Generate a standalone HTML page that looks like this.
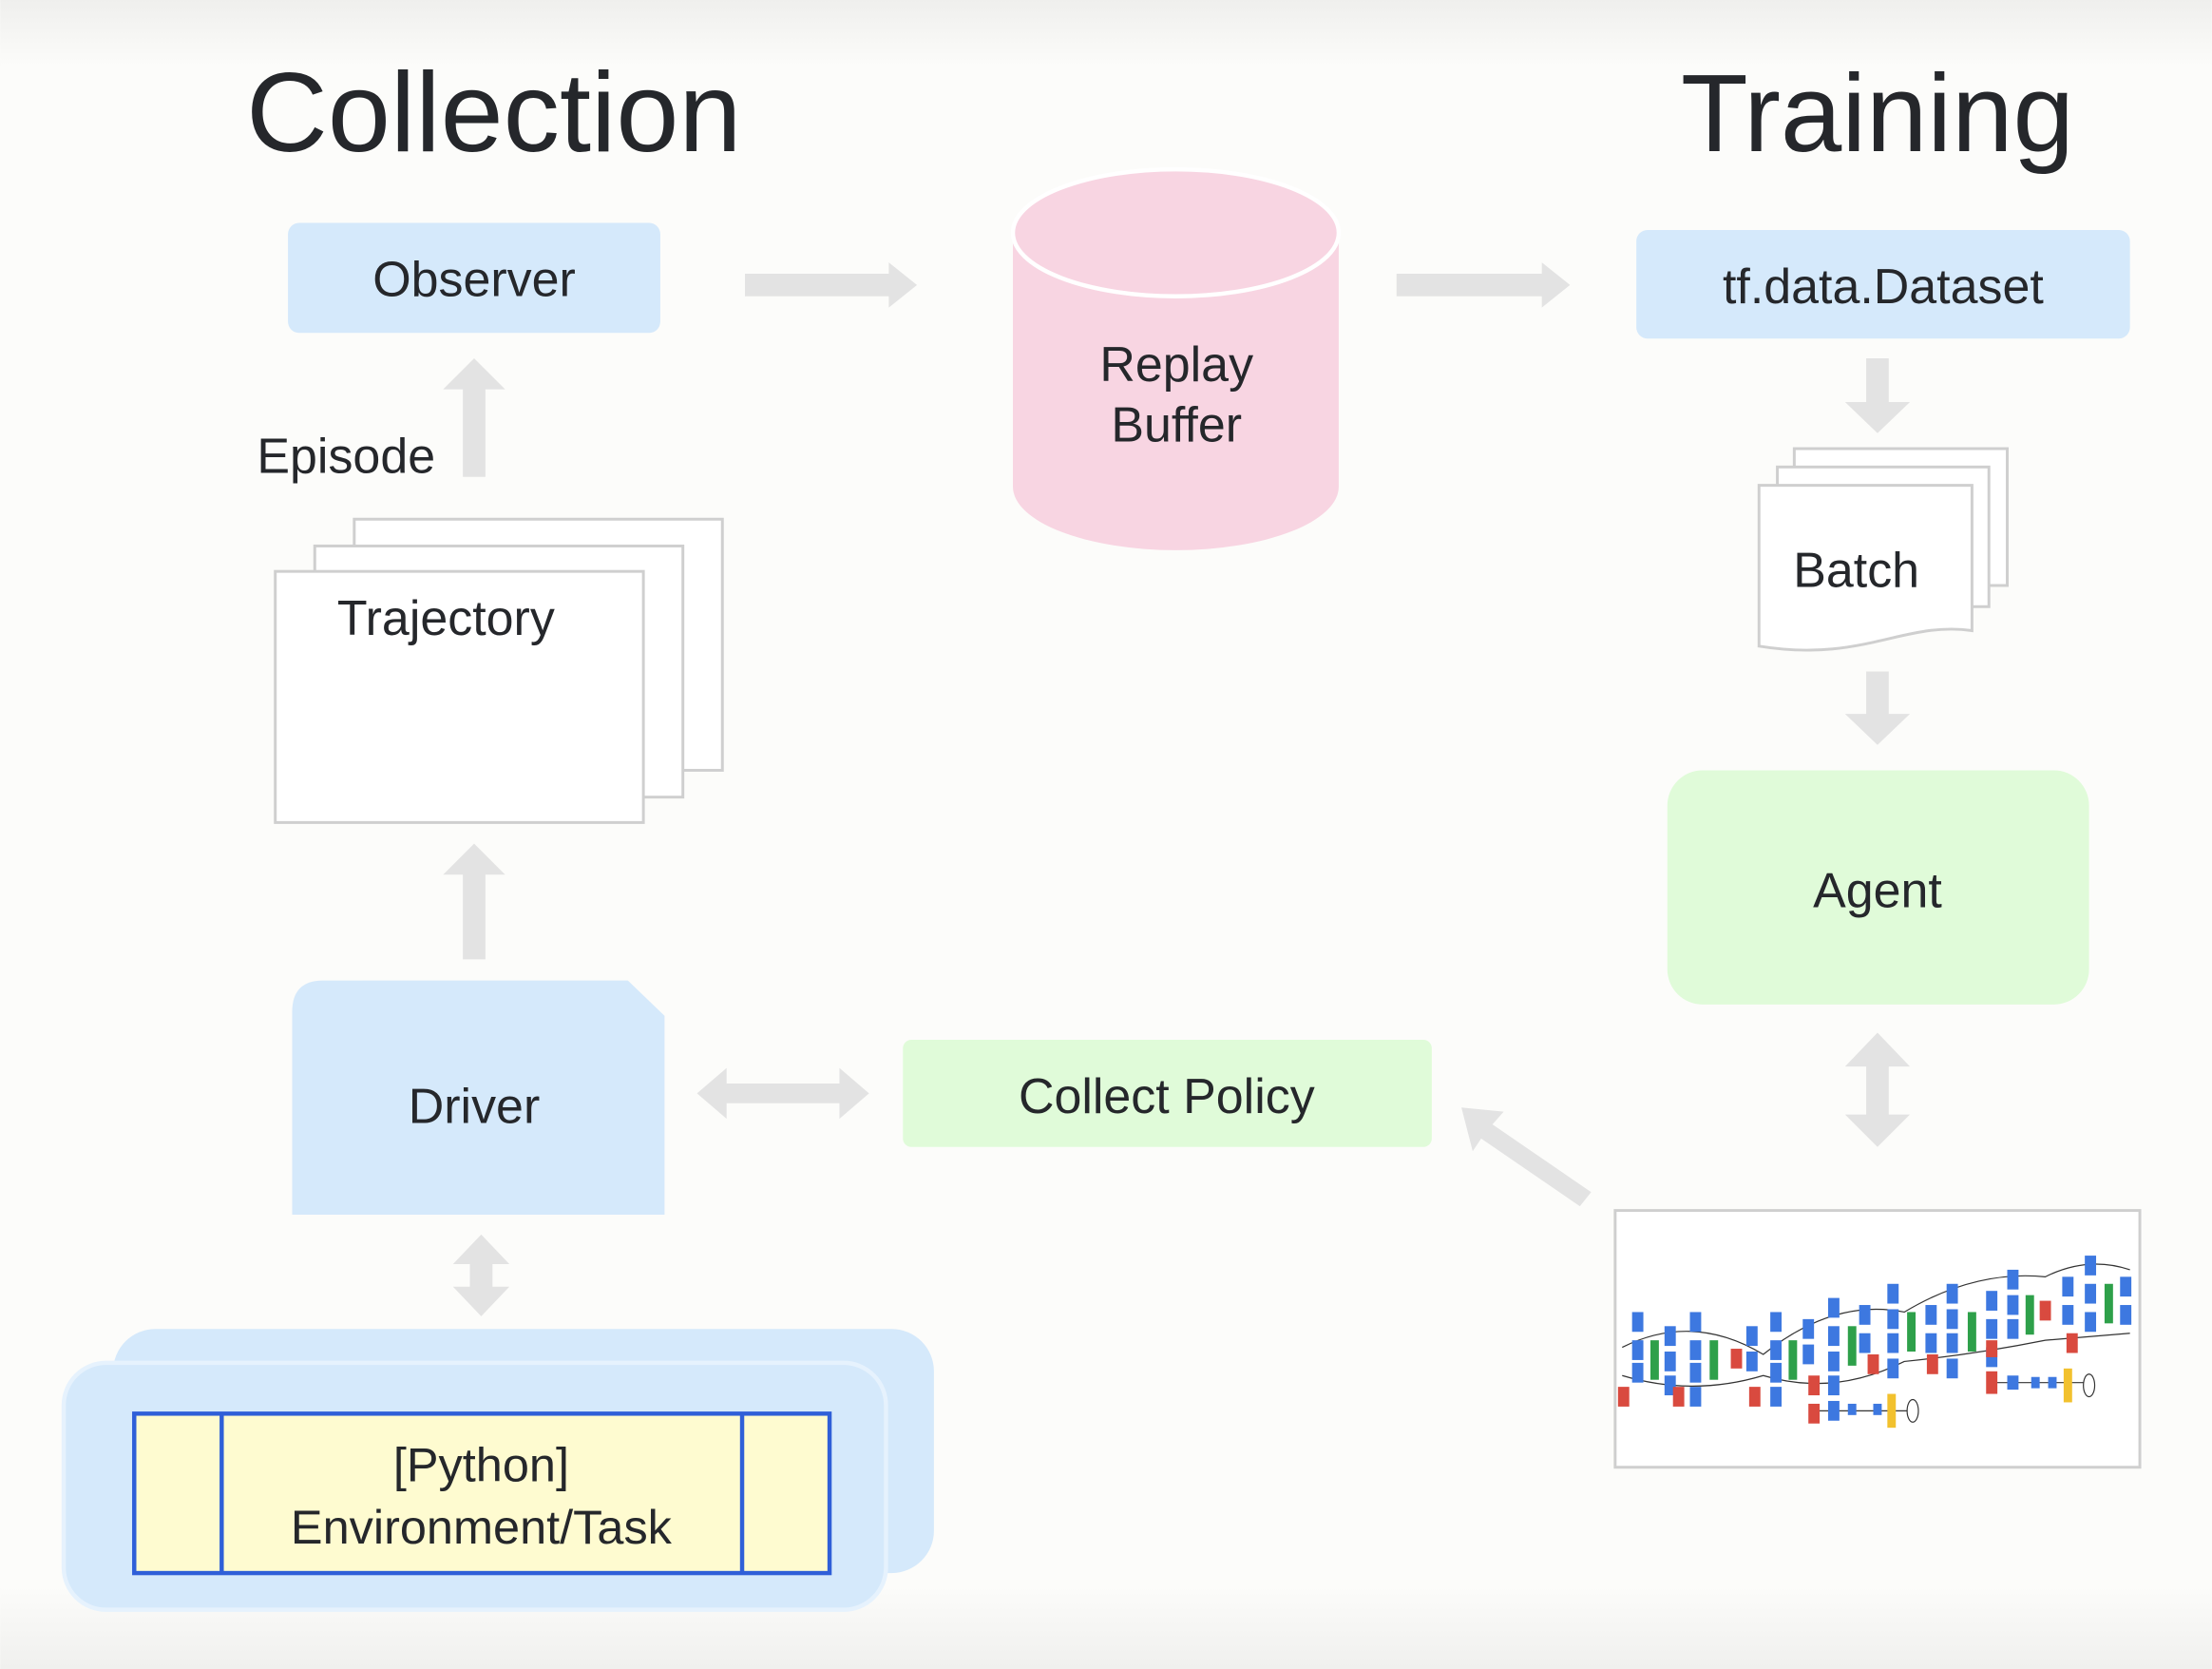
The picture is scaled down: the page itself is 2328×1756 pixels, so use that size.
<!DOCTYPE html>
<html><head><meta charset="utf-8"><style>
html,body{margin:0;padding:0;background:#fbfbf9;}
svg{display:block;}
text{font-family:"Liberation Sans",sans-serif;fill:#25272b;text-anchor:middle;}
</style></head><body>
<svg width="2328" height="1756" viewBox="0 0 1568 1183" xmlns="http://www.w3.org/2000/svg">
<defs>
<linearGradient id="bg" x1="0" y1="0" x2="0" y2="1">
<stop offset="0" stop-color="#efefed"/><stop offset="0.04" stop-color="#fcfcfa"/>
<stop offset="0.95" stop-color="#fcfcfa"/><stop offset="1" stop-color="#f0f0ee"/>
</linearGradient>
</defs>
<rect width="1568" height="1183" fill="url(#bg)"/>

<text x="350" y="107" font-size="80">Collection</text>
<text x="1331" y="107" font-size="78">Training</text>

<rect x="204" y="158" width="264" height="78" rx="8" fill="#d5e9fb"/>
<text x="336" y="210" font-size="35">Observer</text>

<g fill="#e3e3e3">
<polygon points="528,194 630,194 630,186 650,202 630,218 630,210 528,210"/>
<polygon points="990,194 1093,194 1093,186 1113,202 1093,218 1093,210 990,210"/>
<polygon points="1323,254 1339,254 1339,285 1354,285 1331,307 1308,285 1323,285"/>
<polygon points="1323,476 1339,476 1339,506 1354,506 1331,528 1308,506 1323,506"/>
<polygon points="1331,732 1354,756 1339,756 1339,790 1354,790 1331,813 1308,790 1323,790 1323,756 1308,756"/>
<polygon points="328,338 344,338 344,276 358,276 336,254 314,276 328,276"/>
<polygon points="328,680 344,680 344,620 358,620 336,598 314,620 328,620"/>
<polygon points="341,875 361,896 349,896 349,912 361,912 341,933 321,912 333,912 333,896 321,896"/>
<polygon points="494,775 515,757 515,768 595,768 595,757 616,775 595,793 595,782 515,782 515,793"/>
<polygon points="1036,785 1066,788 1058,797 1128,845 1120,855 1050,807 1044,816"/>
</g>

<path d="M718,165 L718,345 A115.5,45 0 0 0 949,345 L949,165 Z" fill="#f8d5e2"/>
<ellipse cx="833.5" cy="165" rx="115.5" ry="45" fill="#f8d5e2" stroke="#ffffff" stroke-width="3"/>
<text x="834" y="270" font-size="35">Replay</text>
<text x="834" y="313" font-size="35">Buffer</text>

<rect x="1160" y="163" width="350" height="77" rx="8" fill="#d5e9fb"/>
<text x="1335" y="215" font-size="35">tf.data.Dataset</text>

<g fill="#fff" stroke="#cfcfcf" stroke-width="2">
<rect x="1272" y="318" width="151" height="97"/>
<rect x="1260" y="331" width="150" height="99"/>
<path d="M1247,344 L1398,344 L1398,447 C1350,440 1320,470 1247,458 Z"/>
</g>
<text x="1316" y="416" font-size="35">Batch</text>

<rect x="1182" y="546" width="299" height="166" rx="25" fill="#e0fbd9"/>
<text x="1331" y="643" font-size="35">Agent</text>

<rect x="640" y="737" width="375" height="76" rx="6" fill="#e0fbd9"/>
<text x="827" y="789" font-size="35">Collect Policy</text>

<path d="M229,695 L445,695 L471,720 L471,861 L207,861 L207,717 Q207,695 229,695 Z" fill="#d5e9fb"/>
<text x="336" y="796" font-size="35">Driver</text>

<g fill="#fff" stroke="#cfcfcf" stroke-width="2">
<rect x="251" y="368" width="261" height="178"/>
<rect x="223" y="387" width="261" height="178"/>
<rect x="195" y="405" width="261" height="178"/>
</g>
<text x="316" y="450" font-size="35">Trajectory</text>
<text x="182" y="335" font-size="35" style="text-anchor:start">Episode</text>

<rect x="80" y="942" width="582" height="173" rx="30" fill="#d5e9fb"/>
<rect x="45" y="966" width="583" height="175" rx="30" fill="#d5e9fb" stroke="#e6f2fd" stroke-width="3"/>
<rect x="95" y="1002" width="493" height="113" fill="#fefbd0" stroke="#2f5fd8" stroke-width="3"/>
<line x1="157" y1="1002" x2="157" y2="1115" stroke="#2f5fd8" stroke-width="3"/>
<line x1="526" y1="1002" x2="526" y2="1115" stroke="#2f5fd8" stroke-width="3"/>
<text x="341" y="1050" font-size="34">[Python]</text>
<text x="341" y="1094" font-size="34">Environment/Task</text>

<rect x="1145" y="858" width="372" height="182" fill="#fff" stroke="#cfcfcf" stroke-width="2"/>
<g stroke="#333" stroke-width="0.8" fill="none">
<path d="M1150,955 Q1200,930 1250,960 Q1300,920 1350,930 Q1400,900 1450,905 Q1480,890 1510,900"/>
<path d="M1150,975 Q1200,990 1250,975 Q1300,990 1350,965 Q1400,960 1450,950 L1510,945"/>
<path d="M1285,1000 L1355,1000 M1410,980 L1480,980"/>
</g>
<g fill="#3d78e0">
<rect x="1157" y="930" width="8" height="14"/><rect x="1157" y="950" width="8" height="14"/><rect x="1157" y="966" width="8" height="14"/>
<rect x="1180" y="940" width="8" height="14"/><rect x="1180" y="958" width="8" height="14"/><rect x="1180" y="975" width="8" height="14"/>
<rect x="1198" y="930" width="8" height="14"/><rect x="1198" y="950" width="8" height="14"/><rect x="1198" y="966" width="8" height="14"/><rect x="1198" y="983" width="8" height="14"/>
<rect x="1238" y="940" width="8" height="14"/><rect x="1238" y="958" width="8" height="14"/>
<rect x="1255" y="930" width="8" height="14"/><rect x="1255" y="950" width="8" height="14"/><rect x="1255" y="966" width="8" height="14"/><rect x="1255" y="983" width="8" height="14"/>
<rect x="1278" y="935" width="8" height="14"/><rect x="1278" y="953" width="8" height="14"/>
<rect x="1296" y="920" width="8" height="14"/><rect x="1296" y="940" width="8" height="14"/><rect x="1296" y="958" width="8" height="14"/><rect x="1296" y="975" width="8" height="14"/><rect x="1296" y="993" width="8" height="14"/>
<rect x="1318" y="925" width="8" height="14"/><rect x="1318" y="945" width="8" height="14"/>
<rect x="1338" y="910" width="8" height="14"/><rect x="1338" y="928" width="8" height="14"/><rect x="1338" y="945" width="8" height="14"/><rect x="1338" y="963" width="8" height="14"/>
<rect x="1365" y="925" width="8" height="14"/><rect x="1365" y="945" width="8" height="14"/>
<rect x="1380" y="910" width="8" height="14"/><rect x="1380" y="928" width="8" height="14"/><rect x="1380" y="945" width="8" height="14"/><rect x="1380" y="963" width="8" height="14"/>
<rect x="1408" y="915" width="8" height="14"/><rect x="1408" y="935" width="8" height="14"/><rect x="1408" y="955" width="8" height="14"/>
<rect x="1423" y="900" width="8" height="14"/><rect x="1423" y="918" width="8" height="14"/><rect x="1423" y="935" width="8" height="14"/><rect x="1423" y="975" width="8" height="10"/>
<rect x="1462" y="905" width="8" height="14"/><rect x="1462" y="925" width="8" height="14"/>
<rect x="1478" y="890" width="8" height="14"/><rect x="1478" y="910" width="8" height="14"/><rect x="1478" y="930" width="8" height="14"/>
<rect x="1503" y="905" width="8" height="14"/><rect x="1503" y="925" width="8" height="14"/>
<rect x="1310" y="995" width="6" height="8"/><rect x="1328" y="995" width="6" height="8"/>
<rect x="1440" y="976" width="6" height="8"/><rect x="1452" y="976" width="6" height="8"/>
</g>
<g fill="#2ea04a">
<rect x="1170" y="950" width="6" height="28"/><rect x="1212" y="950" width="6" height="28"/><rect x="1268" y="950" width="6" height="28"/>
<rect x="1310" y="940" width="6" height="28"/><rect x="1352" y="930" width="6" height="28"/><rect x="1395" y="930" width="6" height="28"/>
<rect x="1436" y="918" width="6" height="28"/><rect x="1492" y="910" width="6" height="28"/>
</g>
<g fill="#d94a3f">
<rect x="1147" y="983" width="8" height="14"/><rect x="1186" y="983" width="8" height="14"/><rect x="1227" y="956" width="8" height="14"/>
<rect x="1240" y="983" width="8" height="14"/><rect x="1282" y="975" width="8" height="14"/><rect x="1282" y="995" width="8" height="14"/>
<rect x="1324" y="960" width="8" height="14"/><rect x="1366" y="960" width="8" height="14"/><rect x="1408" y="972" width="8" height="16"/>
<rect x="1446" y="922" width="8" height="14"/><rect x="1465" y="945" width="8" height="14"/><rect x="1408" y="950" width="8" height="12"/>
</g>
<g fill="#f2c12e"><rect x="1338" y="988" width="6" height="24"/><rect x="1463" y="970" width="6" height="24"/></g>
<ellipse cx="1356" cy="1000" rx="4" ry="8" fill="#fff" stroke="#333" stroke-width="0.8"/>
<ellipse cx="1481" cy="982" rx="4" ry="8" fill="#fff" stroke="#333" stroke-width="0.8"/>
</svg>
</body></html>
